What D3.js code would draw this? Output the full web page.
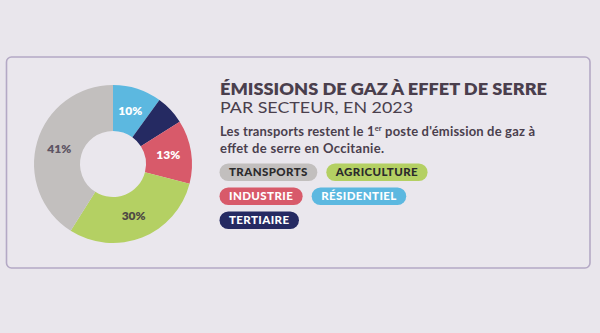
<!DOCTYPE html>
<html><head><meta charset="utf-8">
<script src="https://cdn.jsdelivr.net/npm/d3@7"></script>
<style>
html,body{margin:0;padding:0;background:#e9e6ec;}
svg{display:block;}
</style></head>
<body>
<svg id="chart" width="600" height="333"></svg>
<script>
// Data (clockwise from 12 o'clock)
const sectors = ["RÉSIDENTIEL", "TERTIAIRE", "INDUSTRIE", "AGRICULTURE", "TRANSPORTS"];
const shares  = [10, 6, 13, 30, 41];
const labels  = ["10%", "", "13%", "30%", "41%"];
const colors  = ["#5cb8e0", "#252a62", "#d85a6a", "#b4d063", "#c2bfbe"];
const labelColors = ["#ffffff", "#ffffff", "#ffffff", "#4e4a44", "#5d5463"];
// Legend order
const legendRows = [["TRANSPORTS", "AGRICULTURE"], ["INDUSTRIE", "RÉSIDENTIEL"], ["TERTIAIRE"]];
const legendTextColors = {"TRANSPORTS":"#2b2a2c","AGRICULTURE":"#2b2a2c","INDUSTRIE":"#ffffff","RÉSIDENTIEL":"#ffffff","TERTIAIRE":"#ffffff"};
const title1 = "ÉMISSIONS DE GAZ À EFFET DE SERRE";
const title2 = "PAR SECTEUR, EN 2023";

const svg = d3.select("#chart");
const font = "Lato, 'Open Sans', sans-serif";

// panel
svg.append("rect").attr("x", 6.5).attr("y", 57).attr("width", 583.5).attr("height", 211)
  .attr("rx", 5).attr("fill", "#eae7ed").attr("stroke", "#b4a9c5").attr("stroke-width", 1.6);

// donut
const cx = 113, cy = 164, R = 79, r = 33;
const pie = d3.pie().sort(null).value(d => d)(shares);
const arc = d3.arc().innerRadius(r).outerRadius(R);
const g = svg.append("g").attr("transform", `translate(${cx},${cy})`);
g.selectAll("path").data(pie).join("path")
  .attr("d", arc).attr("fill", (d, i) => colors[i]);
const labelArc = d3.arc().innerRadius((r + R) / 2).outerRadius((r + R) / 2);
g.selectAll("text").data(pie).join("text")
  .attr("transform", d => `translate(${labelArc.centroid(d)})`)
  .attr("text-anchor", "middle").attr("dy", "0.35em")
  .attr("font-family", font).attr("font-weight", 800).attr("font-size", 12)
  .attr("fill", (d, i) => labelColors[i])
  .text((d, i) => labels[i]);

// titles
const tx = 220;
svg.append("text").attr("x", tx).attr("y", 95).attr("font-family", font).attr("font-weight", 800)
  .attr("font-size", 16).attr("fill", "#4a3f4d").attr("textLength", 327).attr("lengthAdjust", "spacingAndGlyphs")
  .text(title1);
svg.append("text").attr("x", tx).attr("y", 112.7).attr("font-family", font).attr("font-weight", 400)
  .attr("font-size", 16).attr("fill", "#4a3f4d").attr("textLength", 193).attr("lengthAdjust", "spacingAndGlyphs")
  .text(title2);

const sub = svg.append("text").attr("x", tx).attr("y", 136).attr("font-family", font).attr("font-weight", 700)
  .attr("font-size", 13).attr("fill", "#4a3f4d").attr("textLength", 315).attr("lengthAdjust", "spacing");
sub.append("tspan").text("Les transports restent le 1");
sub.append("tspan").attr("font-size", 7.5).attr("dy", -5).text("er");
sub.append("tspan").attr("dy", 5).text(" poste d'émission de gaz à");
svg.append("text").attr("x", tx).attr("y", 152.7).attr("font-family", font).attr("font-weight", 700)
  .attr("font-size", 13).attr("fill", "#4a3f4d").attr("textLength", 164).attr("lengthAdjust", "spacing")
  .text("effet de serre en Occitanie.");

// legend pills
const colorOf = {};
sectors.forEach((s, i) => colorOf[s] = colors[i]);
const rowY = [163.5, 187.5, 211.5];
const pillH = 17.5, padX = 9.5, gap = 9;
legendRows.forEach((row, ri) => {
  let x = 219.5;
  row.forEach(name => {
    const gg = svg.append("g");
    const t = gg.append("text").attr("font-family", font).attr("font-weight", 900)
      .attr("font-size", 11.5).attr("letter-spacing", 0.4).attr("fill", legendTextColors[name]).text(name);
    const w = t.node().getComputedTextLength() + 2 * padX;
    gg.insert("rect", "text").attr("x", x).attr("y", rowY[ri]).attr("width", w).attr("height", pillH)
      .attr("rx", pillH / 2).attr("fill", colorOf[name]);
    t.attr("x", x + w / 2).attr("y", rowY[ri] + pillH / 2).attr("dy", "0.36em").attr("text-anchor", "middle");
    x += w + gap;
  });
});
</script>
</body></html>
